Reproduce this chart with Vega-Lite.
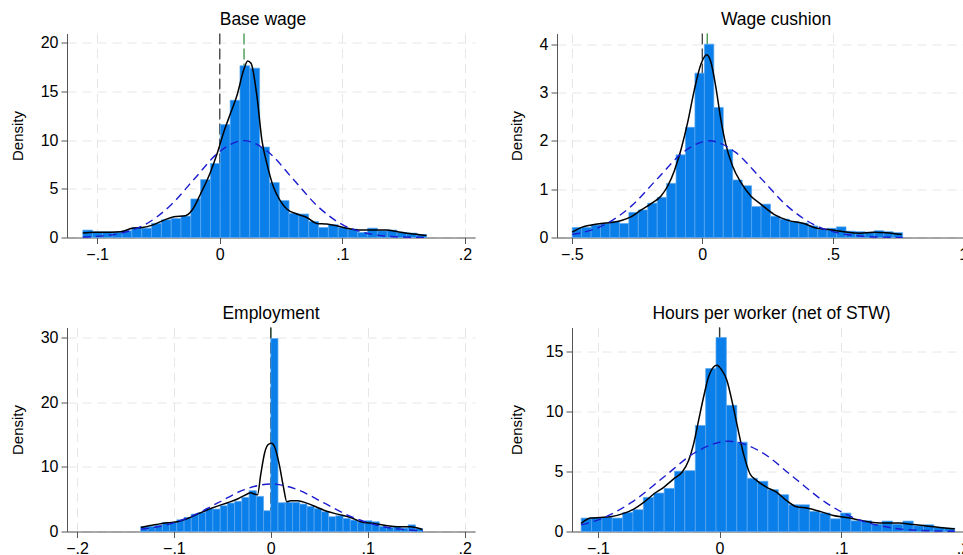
{
  "$schema": "https://vega.github.io/schema/vega-lite/v6.json",
  "background": "white",
  "padding": {"left": 10, "top": 10.5, "right": 0, "bottom": 0},
  "config": {
    "font": "Liberation Sans",
    "view": {"stroke": null},
    "axis": {
      "labelFont": "Liberation Sans", "labelFontSize": 16, "labelColor": "#000000",
      "titleFont": "Liberation Sans", "titleFontSize": 15, "titleFontWeight": "normal", "titleColor": "#000000",
      "domainColor": "#555555", "tickColor": "#555555", "tickSize": 6, "labelPadding": 3,
      "gridColor": "#e6e6e6", "gridDash": [9, 6], "gridWidth": 1, "labelFlush": false
    },
    "axisY": {"titlePadding": 15, "format": "d"},
    "title": {"font": "Liberation Sans", "fontSize": 17.5, "fontWeight": "normal", "color": "#000000", "offset": 4}
  },
  "datasets": {
    "vlines": [
      {"p": "bw", "stat": "zero", "x": 0}, {"p": "bw", "stat": "mean", "x": 0.0198},
      {"p": "wc", "stat": "zero", "x": 0}, {"p": "wc", "stat": "mean", "x": 0.019},
      {"p": "emp", "stat": "zero", "x": 0}, {"p": "emp", "stat": "mean", "x": 0.0},
      {"p": "hpw", "stat": "zero", "x": 0}, {"p": "hpw", "stat": "mean", "x": 0.0}
    ],
    "hist": [
      {"p":"bw","x":-0.1117,"x2":-0.1037,"d":0.76},{"p":"bw","x":-0.1037,"x2":-0.0957,"d":0.58},{"p":"bw","x":-0.0957,"x2":-0.0877,"d":0.58},
      {"p":"bw","x":-0.0877,"x2":-0.0797,"d":0.55},{"p":"bw","x":-0.0797,"x2":-0.0717,"d":0.69},{"p":"bw","x":-0.0717,"x2":-0.0636,"d":1.03},
      {"p":"bw","x":-0.0636,"x2":-0.0556,"d":0.96},{"p":"bw","x":-0.0556,"x2":-0.0476,"d":1.45},{"p":"bw","x":-0.0476,"x2":-0.0396,"d":1.82},
      {"p":"bw","x":-0.0396,"x2":-0.0316,"d":1.96},{"p":"bw","x":-0.0316,"x2":-0.0236,"d":2.2},{"p":"bw","x":-0.0236,"x2":-0.0156,"d":3.96},
      {"p":"bw","x":-0.0156,"x2":-0.0076,"d":5.95},{"p":"bw","x":-0.0076,"x2":0.0004,"d":7.6},{"p":"bw","x":0.0004,"x2":0.0085,"d":11.6},
      {"p":"bw","x":0.0085,"x2":0.0165,"d":14.1},{"p":"bw","x":0.0165,"x2":0.0245,"d":17.65},{"p":"bw","x":0.0245,"x2":0.0325,"d":17.4},
      {"p":"bw","x":0.0325,"x2":0.0405,"d":9.29},{"p":"bw","x":0.0405,"x2":0.0485,"d":5.64},{"p":"bw","x":0.0485,"x2":0.0565,"d":3.79},
      {"p":"bw","x":0.0565,"x2":0.0645,"d":2.48},{"p":"bw","x":0.0645,"x2":0.0725,"d":2.41},{"p":"bw","x":0.0725,"x2":0.0806,"d":1.65},
      {"p":"bw","x":0.0806,"x2":0.0886,"d":1.03},{"p":"bw","x":0.0886,"x2":0.0966,"d":1.31},{"p":"bw","x":0.0966,"x2":0.1046,"d":1.03},
      {"p":"bw","x":0.1046,"x2":0.1126,"d":0.86},{"p":"bw","x":0.1126,"x2":0.1206,"d":0.52},{"p":"bw","x":0.1206,"x2":0.1286,"d":0.96},
      {"p":"bw","x":0.1286,"x2":0.1366,"d":0.69},{"p":"bw","x":0.1366,"x2":0.1446,"d":0.76},{"p":"bw","x":0.1446,"x2":0.1526,"d":0.52},
      {"p":"bw","x":0.1526,"x2":0.1607,"d":0.45},{"p":"bw","x":0.1607,"x2":0.1687,"d":0.31},

      {"p":"wc","x":-0.4987,"x2":-0.4625,"d":0.207},{"p":"wc","x":-0.4625,"x2":-0.4263,"d":0.21},{"p":"wc","x":-0.4263,"x2":-0.3901,"d":0.26},
      {"p":"wc","x":-0.3901,"x2":-0.3539,"d":0.29},{"p":"wc","x":-0.3539,"x2":-0.3177,"d":0.33},{"p":"wc","x":-0.3177,"x2":-0.2815,"d":0.29},
      {"p":"wc","x":-0.2815,"x2":-0.2453,"d":0.52},{"p":"wc","x":-0.2453,"x2":-0.2091,"d":0.57},{"p":"wc","x":-0.2091,"x2":-0.1729,"d":0.71},
      {"p":"wc","x":-0.1729,"x2":-0.1367,"d":0.83},{"p":"wc","x":-0.1367,"x2":-0.1005,"d":1.12},{"p":"wc","x":-0.1005,"x2":-0.0643,"d":1.71},
      {"p":"wc","x":-0.0643,"x2":-0.0281,"d":2.28},{"p":"wc","x":-0.0281,"x2":0.0081,"d":3.4},{"p":"wc","x":0.0081,"x2":0.0443,"d":4.0},
      {"p":"wc","x":0.0443,"x2":0.0805,"d":2.69},{"p":"wc","x":0.0805,"x2":0.1167,"d":1.82},{"p":"wc","x":0.1167,"x2":0.1529,"d":1.19},
      {"p":"wc","x":0.1529,"x2":0.1891,"d":1.07},{"p":"wc","x":0.1891,"x2":0.2253,"d":0.64},{"p":"wc","x":0.2253,"x2":0.2615,"d":0.69},
      {"p":"wc","x":0.2615,"x2":0.2977,"d":0.44},{"p":"wc","x":0.2977,"x2":0.3339,"d":0.38},{"p":"wc","x":0.3339,"x2":0.3701,"d":0.33},
      {"p":"wc","x":0.3701,"x2":0.4063,"d":0.3},{"p":"wc","x":0.4063,"x2":0.4425,"d":0.24},{"p":"wc","x":0.4425,"x2":0.4787,"d":0.17},
      {"p":"wc","x":0.4787,"x2":0.5149,"d":0.19},{"p":"wc","x":0.5149,"x2":0.5511,"d":0.22},{"p":"wc","x":0.5511,"x2":0.5873,"d":0.13},
      {"p":"wc","x":0.5873,"x2":0.6235,"d":0.12},{"p":"wc","x":0.6235,"x2":0.6597,"d":0.11},{"p":"wc","x":0.6597,"x2":0.6959,"d":0.14},
      {"p":"wc","x":0.6959,"x2":0.7321,"d":0.12},{"p":"wc","x":0.7321,"x2":0.7683,"d":0.1},

      {"p":"emp","x":-0.1343,"x2":-0.1268,"d":0.78},{"p":"emp","x":-0.1268,"x2":-0.1194,"d":0.78},{"p":"emp","x":-0.1194,"x2":-0.1119,"d":0.98},
      {"p":"emp","x":-0.1119,"x2":-0.1045,"d":1.4},{"p":"emp","x":-0.1045,"x2":-0.097,"d":1.4},{"p":"emp","x":-0.097,"x2":-0.0895,"d":1.81},
      {"p":"emp","x":-0.0895,"x2":-0.0821,"d":2.17},{"p":"emp","x":-0.0821,"x2":-0.0746,"d":2.69},{"p":"emp","x":-0.0746,"x2":-0.0672,"d":2.95},
      {"p":"emp","x":-0.0672,"x2":-0.0597,"d":3.57},{"p":"emp","x":-0.0597,"x2":-0.0522,"d":3.47},{"p":"emp","x":-0.0522,"x2":-0.0448,"d":3.98},
      {"p":"emp","x":-0.0448,"x2":-0.0373,"d":4.4},{"p":"emp","x":-0.0373,"x2":-0.0299,"d":4.66},{"p":"emp","x":-0.0299,"x2":-0.0224,"d":5.28},
      {"p":"emp","x":-0.0224,"x2":-0.0149,"d":6.31},{"p":"emp","x":-0.0149,"x2":-0.0075,"d":5.43},{"p":"emp","x":-0.0075,"x2":0.0,"d":3.21},
      {"p":"emp","x":0.0,"x2":0.0074,"d":29.85},{"p":"emp","x":0.0074,"x2":0.0149,"d":4.45},{"p":"emp","x":0.0149,"x2":0.0224,"d":4.5},
      {"p":"emp","x":0.0224,"x2":0.0298,"d":4.5},{"p":"emp","x":0.0298,"x2":0.0373,"d":4.24},{"p":"emp","x":0.0373,"x2":0.0447,"d":3.88},
      {"p":"emp","x":0.0447,"x2":0.0522,"d":3.57},{"p":"emp","x":0.0522,"x2":0.0597,"d":3.05},{"p":"emp","x":0.0597,"x2":0.0671,"d":2.28},
      {"p":"emp","x":0.0671,"x2":0.0746,"d":2.43},{"p":"emp","x":0.0746,"x2":0.082,"d":2.02},{"p":"emp","x":0.082,"x2":0.0895,"d":1.76},
      {"p":"emp","x":0.0895,"x2":0.097,"d":1.5},{"p":"emp","x":0.097,"x2":0.1044,"d":1.66},{"p":"emp","x":0.1044,"x2":0.1119,"d":1.5},
      {"p":"emp","x":0.1119,"x2":0.1193,"d":0.78},{"p":"emp","x":0.1193,"x2":0.1268,"d":0.62},{"p":"emp","x":0.1268,"x2":0.1343,"d":0.78},
      {"p":"emp","x":0.1343,"x2":0.1417,"d":0.52},{"p":"emp","x":0.1417,"x2":0.1492,"d":1.03},{"p":"emp","x":0.1492,"x2":0.1566,"d":0.47},

      {"p":"hpw","x":-0.1137,"x2":-0.1052,"d":1.12},{"p":"hpw","x":-0.1052,"x2":-0.0966,"d":1.17},{"p":"hpw","x":-0.0966,"x2":-0.0881,"d":1.17},
      {"p":"hpw","x":-0.0881,"x2":-0.0796,"d":1.12},{"p":"hpw","x":-0.0796,"x2":-0.0711,"d":1.59},{"p":"hpw","x":-0.0711,"x2":-0.0626,"d":1.82},
      {"p":"hpw","x":-0.0626,"x2":-0.054,"d":2.85},{"p":"hpw","x":-0.054,"x2":-0.0455,"d":3.21},{"p":"hpw","x":-0.0455,"x2":-0.037,"d":3.6},
      {"p":"hpw","x":-0.037,"x2":-0.0285,"d":5.03},{"p":"hpw","x":-0.0285,"x2":-0.0199,"d":5.08},{"p":"hpw","x":-0.0199,"x2":-0.0114,"d":8.85},
      {"p":"hpw","x":-0.0114,"x2":-0.0029,"d":13.6},{"p":"hpw","x":-0.0029,"x2":0.0056,"d":16.2},{"p":"hpw","x":0.0056,"x2":0.0142,"d":10.53},
      {"p":"hpw","x":0.0142,"x2":0.0227,"d":7.46},{"p":"hpw","x":0.0227,"x2":0.0312,"d":4.44},{"p":"hpw","x":0.0312,"x2":0.0397,"d":4.19},
      {"p":"hpw","x":0.0397,"x2":0.0483,"d":3.49},{"p":"hpw","x":0.0483,"x2":0.0568,"d":3.07},{"p":"hpw","x":0.0568,"x2":0.0653,"d":2.23},
      {"p":"hpw","x":0.0653,"x2":0.0738,"d":2.23},{"p":"hpw","x":0.0738,"x2":0.0824,"d":1.68},{"p":"hpw","x":0.0824,"x2":0.0909,"d":1.54},
      {"p":"hpw","x":0.0909,"x2":0.0994,"d":1.06},{"p":"hpw","x":0.0994,"x2":0.1079,"d":1.54},{"p":"hpw","x":0.1079,"x2":0.1165,"d":0.89},
      {"p":"hpw","x":0.1165,"x2":0.125,"d":0.89},{"p":"hpw","x":0.125,"x2":0.1335,"d":0.61},{"p":"hpw","x":0.1335,"x2":0.142,"d":0.87},
      {"p":"hpw","x":0.142,"x2":0.1506,"d":0.61},{"p":"hpw","x":0.1506,"x2":0.1591,"d":0.87},{"p":"hpw","x":0.1591,"x2":0.1676,"d":0.47},
      {"p":"hpw","x":0.1676,"x2":0.1761,"d":0.56},{"p":"hpw","x":0.1761,"x2":0.1846,"d":0.34},{"p":"hpw","x":0.1846,"x2":0.1932,"d":0.28}
    ],
    "kde": [
      {"p":"bw","x":-0.1117,"d":0.45},{"p":"bw","x":-0.1024,"d":0.55},{"p":"bw","x":-0.0889,"d":0.55},{"p":"bw","x":-0.0808,"d":0.58},
      {"p":"bw","x":-0.0713,"d":0.96},{"p":"bw","x":-0.0631,"d":1.03},{"p":"bw","x":-0.055,"d":1.27},{"p":"bw","x":-0.0455,"d":1.79},
      {"p":"bw","x":-0.0374,"d":2.13},{"p":"bw","x":-0.0279,"d":2.24},{"p":"bw","x":-0.0225,"d":2.82},{"p":"bw","x":-0.0157,"d":4.47},
      {"p":"bw","x":-0.0076,"d":6.71},{"p":"bw","x":-0.0022,"d":8.6},{"p":"bw","x":0.0033,"d":10.84},{"p":"bw","x":0.0087,"d":12.73},
      {"p":"bw","x":0.0141,"d":14.62},{"p":"bw","x":0.0195,"d":17.2},{"p":"bw","x":0.0228,"d":18.13},{"p":"bw","x":0.0255,"d":17.9},
      {"p":"bw","x":0.0304,"d":14.45},{"p":"bw","x":0.0344,"d":9.98},{"p":"bw","x":0.0385,"d":7.57},{"p":"bw","x":0.0439,"d":5.16},
      {"p":"bw","x":0.0493,"d":3.79},{"p":"bw","x":0.0547,"d":2.92},{"p":"bw","x":0.0629,"d":2.41},{"p":"bw","x":0.071,"d":2.06},
      {"p":"bw","x":0.0791,"d":1.45},{"p":"bw","x":0.0873,"d":1.38},{"p":"bw","x":0.0954,"d":1.2},{"p":"bw","x":0.1035,"d":0.96},
      {"p":"bw","x":0.1144,"d":0.76},{"p":"bw","x":0.1252,"d":0.76},{"p":"bw","x":0.136,"d":0.76},{"p":"bw","x":0.1442,"d":0.62},
      {"p":"bw","x":0.155,"d":0.41},{"p":"bw","x":0.1686,"d":0.21},

      {"p":"wc","x":-0.4987,"d":0.11},{"p":"wc","x":-0.463,"d":0.21},{"p":"wc","x":-0.425,"d":0.26},{"p":"wc","x":-0.387,"d":0.29},
      {"p":"wc","x":-0.349,"d":0.31},{"p":"wc","x":-0.31,"d":0.35},{"p":"wc","x":-0.272,"d":0.43},{"p":"wc","x":-0.234,"d":0.57},
      {"p":"wc","x":-0.196,"d":0.7},{"p":"wc","x":-0.158,"d":0.86},{"p":"wc","x":-0.132,"d":1.07},{"p":"wc","x":-0.107,"d":1.38},
      {"p":"wc","x":-0.081,"d":1.83},{"p":"wc","x":-0.056,"d":2.38},{"p":"wc","x":-0.031,"d":3.04},{"p":"wc","x":-0.005,"d":3.59},
      {"p":"wc","x":0.018,"d":3.78},{"p":"wc","x":0.033,"d":3.63},{"p":"wc","x":0.052,"d":3.11},{"p":"wc","x":0.071,"d":2.45},
      {"p":"wc","x":0.09,"d":1.93},{"p":"wc","x":0.116,"d":1.48},{"p":"wc","x":0.148,"d":1.14},{"p":"wc","x":0.186,"d":0.86},
      {"p":"wc","x":0.224,"d":0.69},{"p":"wc","x":0.275,"d":0.48},{"p":"wc","x":0.326,"d":0.36},{"p":"wc","x":0.389,"d":0.29},
      {"p":"wc","x":0.44,"d":0.19},{"p":"wc","x":0.491,"d":0.16},{"p":"wc","x":0.542,"d":0.12},{"p":"wc","x":0.606,"d":0.09},
      {"p":"wc","x":0.656,"d":0.11},{"p":"wc","x":0.707,"d":0.1},{"p":"wc","x":0.765,"d":0.06},

      {"p":"emp","x":-0.134,"d":0.62},{"p":"emp","x":-0.12,"d":1.03},{"p":"emp","x":-0.1065,"d":1.35},{"p":"emp","x":-0.0962,"d":1.5},
      {"p":"emp","x":-0.0859,"d":2.02},{"p":"emp","x":-0.0756,"d":2.69},{"p":"emp","x":-0.0653,"d":3.36},{"p":"emp","x":-0.055,"d":3.93},
      {"p":"emp","x":-0.0447,"d":4.45},{"p":"emp","x":-0.0344,"d":5.02},{"p":"emp","x":-0.0258,"d":5.69},{"p":"emp","x":-0.0206,"d":6.0},
      {"p":"emp","x":-0.0172,"d":5.79},{"p":"emp","x":-0.0137,"d":5.69},{"p":"emp","x":-0.0103,"d":8.9},{"p":"emp","x":-0.0062,"d":12.26},
      {"p":"emp","x":-0.0027,"d":13.45},{"p":"emp","x":0.0007,"d":13.66},{"p":"emp","x":0.0041,"d":13.04},{"p":"emp","x":0.0086,"d":10.45},
      {"p":"emp","x":0.0131,"d":6.83},{"p":"emp","x":0.0165,"d":4.6},{"p":"emp","x":0.0206,"d":4.76},{"p":"emp","x":0.0275,"d":4.76},
      {"p":"emp","x":0.0378,"d":4.35},{"p":"emp","x":0.0481,"d":3.72},{"p":"emp","x":0.0584,"d":3.1},{"p":"emp","x":0.0687,"d":2.69},
      {"p":"emp","x":0.0825,"d":2.17},{"p":"emp","x":0.0928,"d":1.5},{"p":"emp","x":0.1065,"d":1.24},{"p":"emp","x":0.1203,"d":0.88},
      {"p":"emp","x":0.1306,"d":0.72},{"p":"emp","x":0.1443,"d":0.72},{"p":"emp","x":0.1564,"d":0.31},

      {"p":"hpw","x":-0.1137,"d":0.67},{"p":"hpw","x":-0.106,"d":1.12},{"p":"hpw","x":-0.0978,"d":1.17},{"p":"hpw","x":-0.0896,"d":1.23},
      {"p":"hpw","x":-0.0787,"d":1.51},{"p":"hpw","x":-0.0705,"d":1.87},{"p":"hpw","x":-0.0623,"d":2.43},{"p":"hpw","x":-0.0541,"d":3.13},
      {"p":"hpw","x":-0.0459,"d":3.69},{"p":"hpw","x":-0.0377,"d":4.39},{"p":"hpw","x":-0.0309,"d":4.94},{"p":"hpw","x":-0.0254,"d":5.92},
      {"p":"hpw","x":-0.0213,"d":7.32},{"p":"hpw","x":-0.0172,"d":9.27},{"p":"hpw","x":-0.0131,"d":11.23},{"p":"hpw","x":-0.009,"d":12.91},
      {"p":"hpw","x":-0.0049,"d":13.74},{"p":"hpw","x":-0.0022,"d":13.88},{"p":"hpw","x":0.0019,"d":13.46},{"p":"hpw","x":0.006,"d":12.63},
      {"p":"hpw","x":0.0101,"d":10.95},{"p":"hpw","x":0.0142,"d":8.99},{"p":"hpw","x":0.0197,"d":6.48},{"p":"hpw","x":0.0251,"d":4.8},
      {"p":"hpw","x":0.0306,"d":4.25},{"p":"hpw","x":0.0388,"d":3.69},{"p":"hpw","x":0.047,"d":3.27},{"p":"hpw","x":0.0552,"d":2.57},
      {"p":"hpw","x":0.0634,"d":2.07},{"p":"hpw","x":0.0716,"d":1.96},{"p":"hpw","x":0.0825,"d":1.68},{"p":"hpw","x":0.0934,"d":1.34},
      {"p":"hpw","x":0.1044,"d":1.17},{"p":"hpw","x":0.1153,"d":0.95},{"p":"hpw","x":0.1262,"d":0.75},{"p":"hpw","x":0.1372,"d":0.7},
      {"p":"hpw","x":0.1481,"d":0.7},{"p":"hpw","x":0.1563,"d":0.61},{"p":"hpw","x":0.1672,"d":0.5},{"p":"hpw","x":0.1809,"d":0.34},
      {"p":"hpw","x":0.1932,"d":0.22}
    ],
    "norm": [
      {"p":"bw","x":-0.1117,"d":0.047},{"p":"bw","x":-0.1008,"d":0.11},{"p":"bw","x":-0.0808,"d":0.437},{"p":"bw","x":-0.0607,"d":1.347},
      {"p":"bw","x":-0.0407,"d":3.23},{"p":"bw","x":-0.0206,"d":6.035},{"p":"bw","x":-0.0006,"d":8.781},{"p":"bw","x":0.0195,"d":9.95},
      {"p":"bw","x":0.0396,"d":8.781},{"p":"bw","x":0.0596,"d":6.035},{"p":"bw","x":0.0797,"d":3.23},{"p":"bw","x":0.0997,"d":1.347},
      {"p":"bw","x":0.1198,"d":0.437},{"p":"bw","x":0.1398,"d":0.11},{"p":"bw","x":0.1599,"d":0.022},{"p":"bw","x":0.1694,"d":0.009},

      {"p":"wc","x":-0.4987,"d":0.062},{"p":"wc","x":-0.4718,"d":0.088},{"p":"wc","x":-0.372,"d":0.271},{"p":"wc","x":-0.2723,"d":0.649},
      {"p":"wc","x":-0.1725,"d":1.213},{"p":"wc","x":-0.0728,"d":1.765},{"p":"wc","x":0.027,"d":2.0},{"p":"wc","x":0.1268,"d":1.765},
      {"p":"wc","x":0.2265,"d":1.213},{"p":"wc","x":0.3263,"d":0.649},{"p":"wc","x":0.426,"d":0.271},{"p":"wc","x":0.5258,"d":0.088},
      {"p":"wc","x":0.6255,"d":0.022},{"p":"wc","x":0.7253,"d":0.0044},{"p":"wc","x":0.7683,"d":0.002},

      {"p":"emp","x":-0.134,"d":0.35},{"p":"emp","x":-0.1086,"d":0.995},{"p":"emp","x":-0.0815,"d":2.387},{"p":"emp","x":-0.0543,"d":4.458},
      {"p":"emp","x":-0.0272,"d":6.486},{"p":"emp","x":0.0,"d":7.35},{"p":"emp","x":0.0272,"d":6.486},{"p":"emp","x":0.0543,"d":4.458},
      {"p":"emp","x":0.0815,"d":2.387},{"p":"emp","x":0.1086,"d":0.995},{"p":"emp","x":0.1358,"d":0.323},{"p":"emp","x":0.1569,"d":0.113},

      {"p":"hpw","x":-0.1137,"d":0.549},{"p":"hpw","x":-0.0984,"d":1.02},{"p":"hpw","x":-0.072,"d":2.448},{"p":"hpw","x":-0.0455,"d":4.573},
      {"p":"hpw","x":-0.0191,"d":6.654},{"p":"hpw","x":0.0074,"d":7.54},{"p":"hpw","x":0.0339,"d":6.654},{"p":"hpw","x":0.0603,"d":4.573},
      {"p":"hpw","x":0.0868,"d":2.448},{"p":"hpw","x":0.1132,"d":1.02},{"p":"hpw","x":0.1397,"d":0.331},{"p":"hpw","x":0.1661,"d":0.0837},
      {"p":"hpw","x":0.1932,"d":0.016}
    ]
  },
  "columns": 2,
  "align": {"row": "all", "column": "none"},
  "spacing": {"row": 42, "column": 34},
  "concat": [
    {
      "title": {"text": "Base wage", "dx": -8},
      "width": 408, "height": 204,
      "encoding": {"x": {"field": "x", "type": "quantitative", "title": null,
        "scale": {"domain": [-0.1246, 0.2082], "nice": false, "zero": false},
        "axis": {"values": [-0.1, 0, 0.1, 0.2], "labelExpr": "datum.value == 0 ? '0' : replace(format(datum.value, '.1~f'), '0.', '.')"}}},
      "layer": [
        {"data": {"name": "vlines"}, "transform": [{"filter": "datum.p === 'bw' && datum.stat === 'mean'"}], "mark": {"type": "rule", "color": "#2a8a36", "strokeDash": [11, 4], "strokeWidth": 1.2}, "encoding": {}},
        {"data": {"name": "vlines"}, "transform": [{"filter": "datum.p === 'bw' && datum.stat === 'zero'"}], "mark": {"type": "rule", "color": "#333333", "strokeDash": [11, 4], "strokeWidth": 1.2}, "encoding": {}},
        {"data": {"name": "hist"}, "transform": [{"filter": "datum.p === 'bw'"}], "mark": {"type": "bar", "color": "#0a7fe9", "stroke": "#5aa8f0", "strokeWidth": 0.7},
          "encoding": {"x2": {"field": "x2"}, "y": {"field": "d", "type": "quantitative", "title": "Density", "scale": {"domain": [0, 20.96], "nice": false}, "axis": {"values": [0, 5, 10, 15, 20], "format": "d"}}, "y2": {"datum": 0}}},
        {"data": {"name": "kde"}, "transform": [{"filter": "datum.p === 'bw'"}], "mark": {"type": "line", "color": "#000000", "strokeWidth": 1.5, "interpolate": "monotone"},
          "encoding": {"y": {"field": "d", "type": "quantitative", "title": "Density", "scale": {"domain": [0, 20.96], "nice": false}}}},
        {"data": {"name": "norm"}, "transform": [{"filter": "datum.p === 'bw'"}], "mark": {"type": "line", "color": "#1c1cd0", "strokeWidth": 1.4, "strokeDash": [8, 5], "interpolate": "monotone"},
          "encoding": {"y": {"field": "d", "type": "quantitative", "title": "Density", "scale": {"domain": [0, 20.96], "nice": false}}}}
      ]
    },
    {
      "title": {"text": "Wage cushion", "dx": 11},
      "width": 416, "height": 204,
      "encoding": {"x": {"field": "x", "type": "quantitative", "title": null,
        "scale": {"domain": [-0.557, 1.038], "nice": false, "zero": false},
        "axis": {"values": [-0.5, 0, 0.5, 1], "labelExpr": "datum.value == 0 ? '0' : replace(format(datum.value, '.1~f'), '0.', '.')"}}},
      "layer": [
        {"data": {"name": "vlines"}, "transform": [{"filter": "datum.p === 'wc' && datum.stat === 'mean'"}], "mark": {"type": "rule", "color": "#2a8a36", "strokeDash": [11, 4], "strokeWidth": 1.2}, "encoding": {}},
        {"data": {"name": "vlines"}, "transform": [{"filter": "datum.p === 'wc' && datum.stat === 'zero'"}], "mark": {"type": "rule", "color": "#333333", "strokeDash": [11, 4], "strokeWidth": 1.2}, "encoding": {}},
        {"data": {"name": "hist"}, "transform": [{"filter": "datum.p === 'wc'"}], "mark": {"type": "bar", "color": "#0a7fe9", "stroke": "#5aa8f0", "strokeWidth": 0.7},
          "encoding": {"x2": {"field": "x2"}, "y": {"field": "d", "type": "quantitative", "title": "Density", "scale": {"domain": [0, 4.22], "nice": false}, "axis": {"values": [0, 1, 2, 3, 4], "format": "d"}}, "y2": {"datum": 0}}},
        {"data": {"name": "kde"}, "transform": [{"filter": "datum.p === 'wc'"}], "mark": {"type": "line", "color": "#000000", "strokeWidth": 1.5, "interpolate": "monotone"},
          "encoding": {"y": {"field": "d", "type": "quantitative", "title": "Density", "scale": {"domain": [0, 4.22], "nice": false}}}},
        {"data": {"name": "norm"}, "transform": [{"filter": "datum.p === 'wc'"}], "mark": {"type": "line", "color": "#1c1cd0", "strokeWidth": 1.4, "strokeDash": [8, 5], "interpolate": "monotone"},
          "encoding": {"y": {"field": "d", "type": "quantitative", "title": "Density", "scale": {"domain": [0, 4.22], "nice": false}}}}
      ]
    },
    {
      "title": {"text": "Employment", "dx": 0},
      "width": 408, "height": 204,
      "encoding": {"x": {"field": "x", "type": "quantitative", "title": null,
        "scale": {"domain": [-0.2103, 0.2107], "nice": false, "zero": false},
        "axis": {"values": [-0.2, -0.1, 0, 0.1, 0.2], "labelExpr": "datum.value == 0 ? '0' : replace(format(datum.value, '.1~f'), '0.', '.')"}}},
      "layer": [
        {"data": {"name": "vlines"}, "transform": [{"filter": "datum.p === 'emp' && datum.stat === 'mean'"}], "mark": {"type": "rule", "color": "#2a8a36", "strokeDash": [11, 4], "strokeWidth": 1.2}, "encoding": {}},
        {"data": {"name": "vlines"}, "transform": [{"filter": "datum.p === 'emp' && datum.stat === 'zero'"}], "mark": {"type": "rule", "color": "#333333", "strokeDash": [11, 4], "strokeWidth": 1.2}, "encoding": {}},
        {"data": {"name": "hist"}, "transform": [{"filter": "datum.p === 'emp'"}], "mark": {"type": "bar", "color": "#0a7fe9", "stroke": "#5aa8f0", "strokeWidth": 0.7},
          "encoding": {"x2": {"field": "x2"}, "y": {"field": "d", "type": "quantitative", "title": "Density", "scale": {"domain": [0, 31.55], "nice": false}, "axis": {"values": [0, 10, 20, 30], "format": "d"}}, "y2": {"datum": 0}}},
        {"data": {"name": "kde"}, "transform": [{"filter": "datum.p === 'emp'"}], "mark": {"type": "line", "color": "#000000", "strokeWidth": 1.5, "interpolate": "monotone"},
          "encoding": {"y": {"field": "d", "type": "quantitative", "title": "Density", "scale": {"domain": [0, 31.55], "nice": false}}}},
        {"data": {"name": "norm"}, "transform": [{"filter": "datum.p === 'emp'"}], "mark": {"type": "line", "color": "#1c1cd0", "strokeWidth": 1.4, "strokeDash": [8, 5], "interpolate": "monotone"},
          "encoding": {"y": {"field": "d", "type": "quantitative", "title": "Density", "scale": {"domain": [0, 31.55], "nice": false}}}}
      ]
    },
    {
      "title": {"text": "Hours per worker (net of STW)", "dx": -1},
      "width": 401, "height": 204,
      "encoding": {"x": {"field": "x", "type": "quantitative", "title": null,
        "scale": {"domain": [-0.1212, 0.2082], "nice": false, "zero": false},
        "axis": {"values": [-0.1, 0, 0.1, 0.2], "labelExpr": "datum.value == 0 ? '0' : replace(format(datum.value, '.1~f'), '0.', '.')"}}},
      "layer": [
        {"data": {"name": "vlines"}, "transform": [{"filter": "datum.p === 'hpw' && datum.stat === 'mean'"}], "mark": {"type": "rule", "color": "#2a8a36", "strokeDash": [11, 4], "strokeWidth": 1.2}, "encoding": {}},
        {"data": {"name": "vlines"}, "transform": [{"filter": "datum.p === 'hpw' && datum.stat === 'zero'"}], "mark": {"type": "rule", "color": "#333333", "strokeDash": [11, 4], "strokeWidth": 1.2}, "encoding": {}},
        {"data": {"name": "hist"}, "transform": [{"filter": "datum.p === 'hpw'"}], "mark": {"type": "bar", "color": "#0a7fe9", "stroke": "#5aa8f0", "strokeWidth": 0.7},
          "encoding": {"x2": {"field": "x2"}, "y": {"field": "d", "type": "quantitative", "title": "Density", "scale": {"domain": [0, 17.03], "nice": false}, "axis": {"values": [0, 5, 10, 15], "format": "d", "titlePadding": 21}}, "y2": {"datum": 0}}},
        {"data": {"name": "kde"}, "transform": [{"filter": "datum.p === 'hpw'"}], "mark": {"type": "line", "color": "#000000", "strokeWidth": 1.5, "interpolate": "monotone"},
          "encoding": {"y": {"field": "d", "type": "quantitative", "title": "Density", "scale": {"domain": [0, 17.03], "nice": false}}}},
        {"data": {"name": "norm"}, "transform": [{"filter": "datum.p === 'hpw'"}], "mark": {"type": "line", "color": "#1c1cd0", "strokeWidth": 1.4, "strokeDash": [8, 5], "interpolate": "monotone"},
          "encoding": {"y": {"field": "d", "type": "quantitative", "title": "Density", "scale": {"domain": [0, 17.03], "nice": false}}}}
      ]
    }
  ]
}
